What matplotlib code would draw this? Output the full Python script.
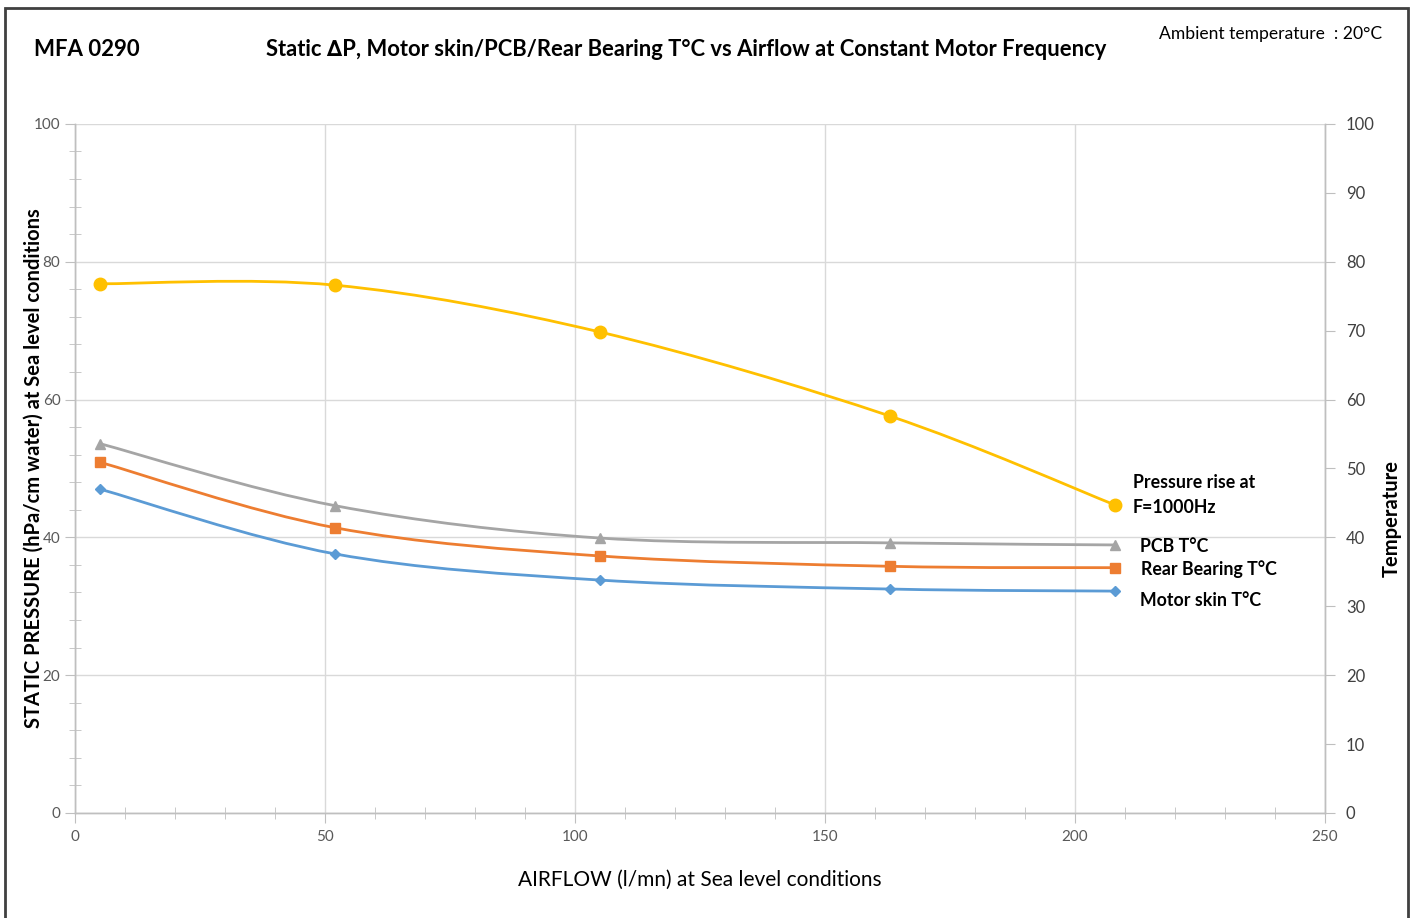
import numpy as np
import matplotlib.pyplot as plt
from matplotlib.path import Path
from matplotlib.patches import PathPatch, Rectangle
from matplotlib.ticker import MultipleLocator

# data
airflow = [5, 52, 105, 163, 208]
pressure = [76.8, 76.6, 69.8, 57.6, 44.7]
pcb_temp = [53.6, 44.6, 39.9, 39.2, 38.9]
bearing_temp = [50.9, 41.4, 37.3, 35.8, 35.6]
motor_temp = [47.0, 37.6, 33.8, 32.5, 32.2]

plt.rcParams['font.family'] = ['Lato', 'DejaVu Sans']


def smooth_path(x, y):
    # Excel style smoothed line: cubic bezier through the points
    pts = np.column_stack([x, y]).astype(float)
    n = len(pts)
    verts = [pts[0]]
    codes = [Path.MOVETO]
    for i in range(n - 1):
        p0 = pts[max(i - 1, 0)]
        p1 = pts[i]
        p2 = pts[i + 1]
        p3 = pts[min(i + 2, n - 1)]
        c1 = p1 + (p2 - p0) / 6.0
        c2 = p2 - (p3 - p1) / 6.0
        verts += [c1, c2, p2]
        codes += [Path.CURVE4] * 3
    return Path(verts, codes)


fig = plt.figure(figsize=(14.15, 9.18), dpi=100)
ax = fig.add_axes([0.053, 0.1144, 0.8834, 0.7506])
ax2 = ax.twinx()

grid_c = '#d9d9d9'
axis_c = '#bfbfbf'

ax.set_xlim(0, 250)
ax.set_ylim(0, 100)
ax2.set_ylim(0, 100)

ax.xaxis.set_major_locator(MultipleLocator(50))
ax.xaxis.set_minor_locator(MultipleLocator(10))
ax.yaxis.set_major_locator(MultipleLocator(20))
ax.yaxis.set_minor_locator(MultipleLocator(4))
ax2.yaxis.set_major_locator(MultipleLocator(10))

ax.grid(True, which='major', color=grid_c, linewidth=1)
ax.set_axisbelow(True)

for a in (ax, ax2):
    a.spines['top'].set_visible(False)
    for s in ('left', 'right', 'bottom'):
        a.spines[s].set_color(axis_c)
        a.spines[s].set_linewidth(1)

ax.tick_params(axis='both', which='major', direction='out', length=7, color=axis_c,
               labelcolor='#595959', labelsize=11)
ax.tick_params(axis='both', which='minor', direction='inout', length=8, color=axis_c)
ax.tick_params(axis='x', which='major', pad=5)
ax2.tick_params(axis='y', which='major', direction='out', length=7, color=axis_c,
                labelcolor='#404040', labelsize=12, pad=8)

# pressure on left axis, temperatures on right axis
curves = [
    (ax, pressure, '#FFC000', 'o', 9),
    (ax2, pcb_temp, '#A5A5A5', '^', 7),
    (ax2, bearing_temp, '#ED7D31', 's', 7),
    (ax2, motor_temp, '#5B9BD5', 'D', 5),
]
for a, vals, col, mk, ms in curves:
    a.add_patch(PathPatch(smooth_path(airflow, vals), fill=False, edgecolor=col,
                          linewidth=2, capstyle='round'))
    a.plot(airflow, vals, linestyle='none', marker=mk, markersize=ms, color=col, zorder=5)

ax.set_ylabel('STATIC PRESSURE (hPa/cm water) at Sea level conditions',
              fontsize=14.5, fontweight='bold', color='black', labelpad=-7)
ax2.set_ylabel('Temperature', fontsize=14.5, fontweight='bold', color='black')
ax2.yaxis.set_label_coords(1.045, 0.427)
ax.set_xlabel('AIRFLOW (l/mn) at Sea level conditions', fontsize=15, color='black',
              labelpad=19)

lab_kw = dict(fontsize=12.8, fontweight='bold', color='black', va='center', ha='left')
ax.text(211.5, 46.1, 'Pressure rise at\nF=1000Hz', linespacing=1.55, **lab_kw)
ax2.text(213, 38.7, 'PCB T°C', **lab_kw)
ax2.text(213.2, 35.4, 'Rear Bearing T°C', **lab_kw)
ax2.text(213, 30.9, 'Motor skin T°C', **lab_kw)

fig.text(0.024, 0.946, 'MFA 0290', fontsize=16, fontweight='bold', va='center', ha='left')
fig.text(0.485, 0.946,
         'Static \u2206P, Motor skin/PCB/Rear Bearing T°C vs Airflow at Constant Motor Frequency',
         fontsize=15.8, fontweight='bold', va='center', ha='center')
fig.text(0.977, 0.963, 'Ambient temperature  : 20°C', fontsize=12.6, va='center', ha='right')

fig.patches.append(Rectangle((0.0035, -0.01), 0.9915, 1.001, transform=fig.transFigure,
                             fill=False, edgecolor='#404040', linewidth=2))

fig.savefig('out.png', dpi=100)
